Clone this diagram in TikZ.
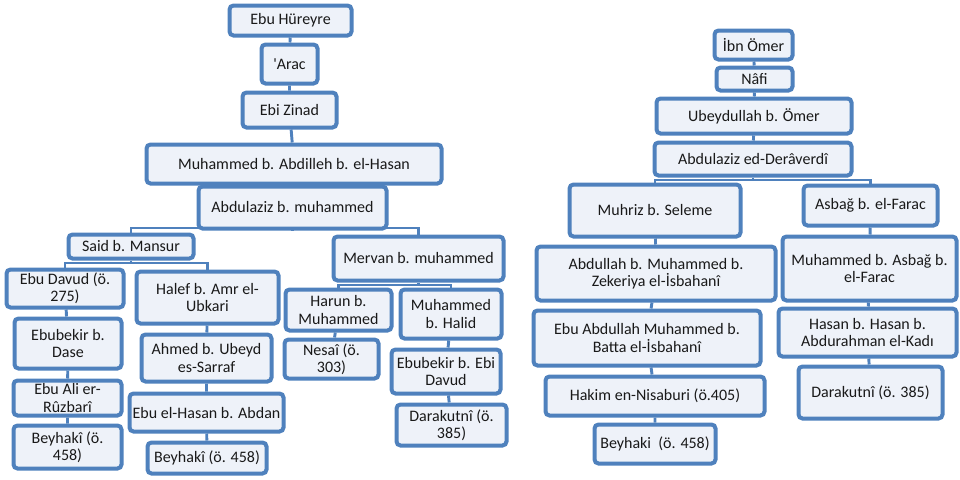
\documentclass[tikz,border=0pt]{standalone}
\usepackage{fontspec}
\setmainfont{Carlito}
\newfontfamily\plaincarlito{Carlito}
\usetikzlibrary{backgrounds}
\definecolor{boxline}{RGB}{79,129,189}
\definecolor{boxfill}{RGB}{238,242,249}
\definecolor{boxtext}{RGB}{25,25,25}
\tikzset{
	isnad/.style={draw=boxline, line width=3pt, fill=boxfill, rounded corners=3pt,
		align=center, inner sep=2pt, text=boxtext, font=\fontsize{12}{13}\selectfont},
	sz/.style 2 args={minimum width=#1*0.75pt, minimum height=#2*0.75pt},
	link/.style={draw=boxline, line width=2.2pt}
}

\begin{document}
\begin{tikzpicture}[x=0.75pt, y=-0.75pt]
		%%%%% START %%%%%
		\useasboundingbox (0,0) rectangle (960,479);
		
		% left chain
		\node[isnad, sz={122}{30}] (ebuhureyre) at (290.5, 20.5) {Ebu Hüreyre};
		\node[isnad, sz={56}{39}] (arac) at (289.5, 64) {{\plaincarlito 'Arac}};
		\node[isnad, sz={94}{35}] (ebizinad) at (289.5, 110) {Ebi Zinad};
		\node[isnad, sz={295}{39}] (abdilleh) at (294, 164) {Muhammed b. Abdilleh b. el-Hasan};
		\node[isnad, sz={188}{42}] (abdulaziz) at (292.5, 207.5) {Abdulaziz b. muhammed};
		
		\node[isnad, sz={125}{24}] (said) at (131, 246.5) {Said b. Mansur};
		\node[isnad, sz={117}{38}] (ebudavud) at (65, 288.5) {Ebu Davud (ö.\\275)};
		\node[isnad, sz={107}{50}] (dase) at (68, 343.5) {Ebubekir b.\\Dase};
		\node[isnad, sz={108}{35}] (ruzbari) at (67.5, 398) {Ebu Ali er-\\Rûzbarî};
		\node[isnad, sz={108}{43}] (beyhakia) at (67.5, 447) {Beyhakî (ö.\\458)};
		
		\node[isnad, sz={142}{52}] (halef) at (207.5, 297.5) {Halef b. Amr el-\\Ubkari};
		\node[isnad, sz={130}{47}] (ahmed) at (206.5, 358) {Ahmed b. Ubeyd\\es-Sarraf};
		\node[isnad, sz={154}{38}] (abdan) at (206.5, 412.5) {Ebu el-Hasan b. Abdan};
		\node[isnad, sz={119}{31}] (beyhakib) at (207, 458) {Beyhakî (ö. 458)};
		
		\node[isnad, sz={170}{44}] (mervan) at (418.5, 258.5) {Mervan b. muhammed};
		\node[isnad, sz={106}{41}] (harun) at (338.5, 310) {Harun b.\\Muhammed};
		\node[isnad, sz={94}{39}] (nesai) at (331.5, 359) {Nesaî (ö.\\303)};
		\node[isnad, sz={101}{49}] (halid) at (451, 314) {Muhammed\\b. Halid};
		\node[isnad, sz={109}{44}] (ebidavud) at (446, 371.5) {Ebubekir b. Ebi\\Davud};
		\node[isnad, sz={110}{41}] (darakutnia) at (451.5, 425) {Darakutnî (ö.\\385)};
		
		% right chain
		\node[isnad, sz={78}{29}] (ibnomer) at (753.5, 45) {İbn Ömer};
		\node[isnad, sz={76}{23}] (nafi) at (754.5, 79) {Nâfi};
		\node[isnad, sz={195}{35}] (ubeydullah) at (754, 116) {Ubeydullah b. Ömer};
		\node[isnad, sz={197}{33}] (deraverdi) at (753, 159) {Abdulaziz ed-Derâverdî};
		
		\node[isnad, sz={171}{52}] (muhriz) at (655, 210.5) {Muhriz b. Seleme};
		\node[isnad, sz={239}{54}] (zekeriya) at (656, 273.5) {Abdullah b. Muhammed b.\\Zekeriya el-İsbahanî};
		\node[isnad, sz={227}{55}] (batta) at (647, 338) {Ebu Abdullah Muhammed b.\\Batta el-İsbahanî};
		\node[isnad, sz={219}{39}] (hakim) at (655, 396) {Hakim en-Nisaburi (ö.405)};
		\node[isnad, sz={121}{39}] (beyhakic) at (655, 444) {Beyhaki~~(ö. 458)};
		
		\node[isnad, sz={134}{40}] (asbag) at (870.5, 205.5) {Asbağ b. el-Farac};
		\node[isnad, sz={174}{64}] (ibnasbag) at (869.5, 268.5) {Muhammed b. Asbağ b.\\el-Farac};
		\node[isnad, sz={178}{48}] (hasan) at (867.5, 332.5) {Hasan b. Hasan b.\\Abdurahman el-Kadı};
		\node[isnad, sz={144}{52}] (darakutnib) at (870.5, 392.5) {Darakutnî (ö. 385)};
		
		% branch bars
		\coordinate (bara) at (0, 228);
		\coordinate (barb) at (0, 263);
		\coordinate (barc) at (0, 285);
		\coordinate (bard) at (0, 180);
		
		\begin{pgfonlayer}{background}
			\draw[link] (ebuhureyre) -- (arac) -- (ebizinad) -- (abdilleh) -- (abdulaziz);
			\draw[link] (abdulaziz) -- (abdulaziz |- bara) -| (said);
			\draw[link] (abdulaziz |- bara) -| (mervan);
			\draw[link] (said) -- (said |- barb) -| (ebudavud);
			\draw[link] (said |- barb) -| (halef);
			\draw[link] (ebudavud) -- (dase) -- (ruzbari) -- (beyhakia);
			\draw[link] (halef) -- (ahmed) -- (abdan) -- (beyhakib);
			\draw[link] (mervan) -- (mervan |- barc) -| (harun);
			\draw[link] (mervan |- barc) -| (halid);
			\draw[link] (harun) -- (nesai);
			\draw[link] (halid) -- (ebidavud) -- (darakutnia);
			
			\draw[link] (ibnomer) -- (nafi) -- (ubeydullah) -- (deraverdi);
			\draw[link] (deraverdi) -- (deraverdi |- bard) -| (muhriz);
			\draw[link] (deraverdi |- bard) -| (asbag);
			\draw[link] (muhriz) -- (zekeriya) -- (batta) -- (hakim) -- (beyhakic);
			\draw[link] (asbag) -- (ibnasbag) -- (hasan) -- (darakutnib);
		\end{pgfonlayer}
		
		%%%%% END %%%%%
\end{tikzpicture}
\end{document}
